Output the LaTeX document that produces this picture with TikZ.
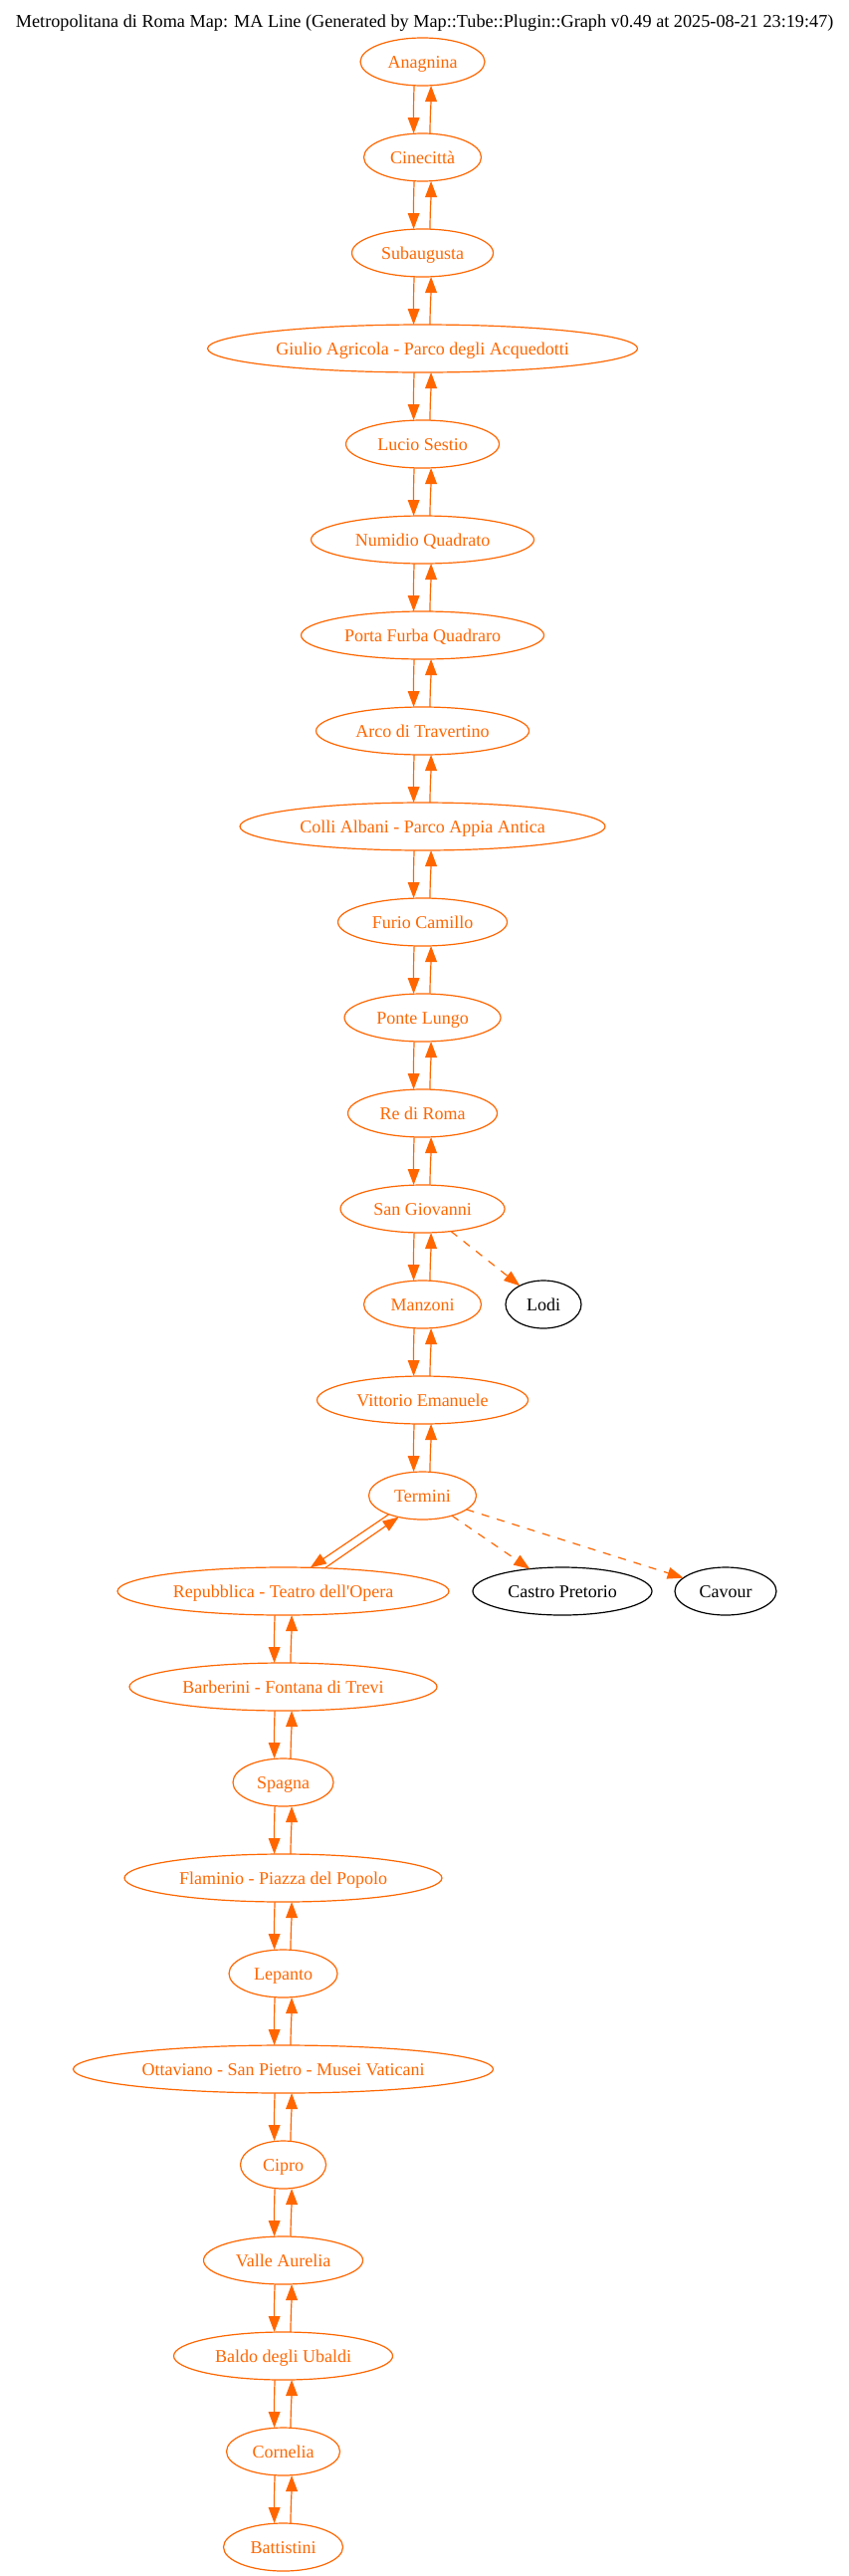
\documentclass[tikz,border=0pt]{standalone}
\usepackage{fontspec}
\setmainfont{Liberation Serif}
\usetikzlibrary{arrows.meta,shapes.geometric}
\definecolor{maline}{HTML}{FF6600}
\tikzset{
    station/.style={draw=maline,text=maline,line width=0.9bp,ellipse,inner sep=0pt,outer sep=0pt,
        minimum height=36bp,text height=11bp,text depth=2bp,font=\fontsize{13.5bp}{16bp}\selectfont},
    transfer/.style={station,draw=black,text=black},
    link/.style={draw=maline,line width=0.9bp,-{Triangle[length=12bp,width=8.8bp]}},
    linkdown/.style={link,to path={([xshift=-6.3bp]\tikztostart.south) .. controls +(-0.6,12) and +(0,-12) .. ([xshift=-6.7bp]\tikztotarget.north)}},
    linkup/.style={link,to path={([xshift=5.6bp]\tikztostart.north) .. controls +(0,-12) and +(0,12) .. ([xshift=6.4bp]\tikztotarget.south)}},
    spur/.style={link,dash pattern=on 6bp off 6bp}
}
\begin{document}
\begin{tikzpicture}[x=1bp,y=-1bp]
    \useasboundingbox (0,0) rectangle (639.75,1940.25);
    \node[font=\fontsize{13.67bp}{16bp}\selectfont] (title) at (320,17) {Metropolitana di Roma Map: MA Line (Generated by Map::Tube::Plugin::Graph v0.49 at 2025-08-21 23:19:47)};
    % main column
    \node[station,minimum width=93.75bp] (anagnina) at (318.4,46.5) {Anagnina};
    \node[station,minimum width=88.5bp] (cinecitta) at (318.4,118.5) {Cinecittà};
    \node[station,minimum width=106.5bp] (subaugusta) at (318.4,190.5) {Subaugusta};
    \node[station,minimum width=324bp] (giulio) at (318.4,262.5) {Giulio Agricola - Parco degli Acquedotti};
    \node[station,minimum width=115.5bp] (lucio) at (318.4,334.5) {Lucio Sestio};
    \node[station,minimum width=168bp] (numidio) at (318.4,406.5) {Numidio Quadrato};
    \node[station,minimum width=183bp] (porta) at (318.4,478.5) {Porta Furba Quadraro};
    \node[station,minimum width=160.5bp] (arco) at (318.4,550.5) {Arco di Travertino};
    \node[station,minimum width=275.25bp] (colli) at (318.4,622.5) {Colli Albani - Parco Appia Antica};
    \node[station,minimum width=127.5bp] (furio) at (318.4,694.5) {Furio Camillo};
    \node[station,minimum width=117.75bp] (ponte) at (318.4,766.5) {Ponte Lungo};
    \node[station,minimum width=112.5bp] (rediroma) at (318.4,838.5) {Re di Roma};
    \node[station,minimum width=123.75bp] (giovanni) at (318.4,910.5) {San Giovanni};
    \node[station,minimum width=88.5bp] (manzoni) at (318.4,982.5) {Manzoni};
    \node[station,minimum width=159bp] (vittorio) at (318.4,1054.5) {Vittorio Emanuele};
    \node[station,minimum width=81bp] (termini) at (318.4,1126.5) {Termini};
    % lower column
    \node[station,minimum width=249.75bp] (repubblica) at (213.4,1198.5) {Repubblica - Teatro dell\textquotesingle Opera};
    \node[station,minimum width=231.75bp] (barberini) at (213.4,1270.5) {Barberini - Fontana di Trevi};
    \node[station,minimum width=75.75bp] (spagna) at (213.4,1342.5) {Spagna};
    \node[station,minimum width=239.25bp] (flaminio) at (213.4,1414.5) {Flaminio - Piazza del Popolo};
    \node[station,minimum width=81.75bp] (lepanto) at (213.4,1486.5) {Lepanto};
    \node[station,minimum width=316.5bp] (ottaviano) at (213.4,1558.5) {Ottaviano - San Pietro - Musei Vaticani};
    \node[station,minimum width=64.5bp] (cipro) at (213.4,1630.5) {Cipro};
    \node[station,minimum width=120bp] (valle) at (213.4,1702.5) {Valle Aurelia};
    \node[station,minimum width=165bp] (baldo) at (213.4,1774.5) {Baldo degli Ubaldi};
    \node[station,minimum width=85.5bp] (cornelia) at (213.4,1846.5) {Cornelia};
    \node[station,minimum width=90bp] (battistini) at (213.4,1918.5) {Battistini};
    % other lines
    \node[transfer,minimum width=57bp] (lodi) at (409.5,982.5) {Lodi};
    \node[transfer,minimum width=135bp] (castro) at (423.75,1198.5) {Castro Pretorio};
    \node[transfer,minimum width=76.5bp] (cavour) at (546.75,1198.5) {Cavour};
    % both directions
    \draw[linkdown] (anagnina) to (cinecitta);
    \draw[linkup] (cinecitta) to (anagnina);
    \draw[linkdown] (cinecitta) to (subaugusta);
    \draw[linkup] (subaugusta) to (cinecitta);
    \draw[linkdown] (subaugusta) to (giulio);
    \draw[linkup] (giulio) to (subaugusta);
    \draw[linkdown] (giulio) to (lucio);
    \draw[linkup] (lucio) to (giulio);
    \draw[linkdown] (lucio) to (numidio);
    \draw[linkup] (numidio) to (lucio);
    \draw[linkdown] (numidio) to (porta);
    \draw[linkup] (porta) to (numidio);
    \draw[linkdown] (porta) to (arco);
    \draw[linkup] (arco) to (porta);
    \draw[linkdown] (arco) to (colli);
    \draw[linkup] (colli) to (arco);
    \draw[linkdown] (colli) to (furio);
    \draw[linkup] (furio) to (colli);
    \draw[linkdown] (furio) to (ponte);
    \draw[linkup] (ponte) to (furio);
    \draw[linkdown] (ponte) to (rediroma);
    \draw[linkup] (rediroma) to (ponte);
    \draw[linkdown] (rediroma) to (giovanni);
    \draw[linkup] (giovanni) to (rediroma);
    \draw[linkdown] (giovanni) to (manzoni);
    \draw[linkup] (manzoni) to (giovanni);
    \draw[linkdown] (manzoni) to (vittorio);
    \draw[linkup] (vittorio) to (manzoni);
    \draw[linkdown] (vittorio) to (termini);
    \draw[linkup] (termini) to (vittorio);
    \draw[link] (termini.209.6) -- (repubblica.41);
    \draw[link] (repubblica.29.2) -- (termini.222);
    \draw[linkdown] (repubblica) to (barberini);
    \draw[linkup] (barberini) to (repubblica);
    \draw[linkdown] (barberini) to (spagna);
    \draw[linkup] (spagna) to (barberini);
    \draw[linkdown] (spagna) to (flaminio);
    \draw[linkup] (flaminio) to (spagna);
    \draw[linkdown] (flaminio) to (lepanto);
    \draw[linkup] (lepanto) to (flaminio);
    \draw[linkdown] (lepanto) to (ottaviano);
    \draw[linkup] (ottaviano) to (lepanto);
    \draw[linkdown] (ottaviano) to (cipro);
    \draw[linkup] (cipro) to (ottaviano);
    \draw[linkdown] (cipro) to (valle);
    \draw[linkup] (valle) to (cipro);
    \draw[linkdown] (valle) to (baldo);
    \draw[linkup] (baldo) to (valle);
    \draw[linkdown] (baldo) to (cornelia);
    \draw[linkup] (cornelia) to (baldo);
    \draw[linkdown] (cornelia) to (battistini);
    \draw[linkup] (battistini) to (cornelia);
    % dashed connections
    \draw[spur] (giovanni) -- (lodi);
    \draw[spur] (termini) -- (castro);
    \draw[spur] (termini) -- (cavour);
\end{tikzpicture}
\end{document}
